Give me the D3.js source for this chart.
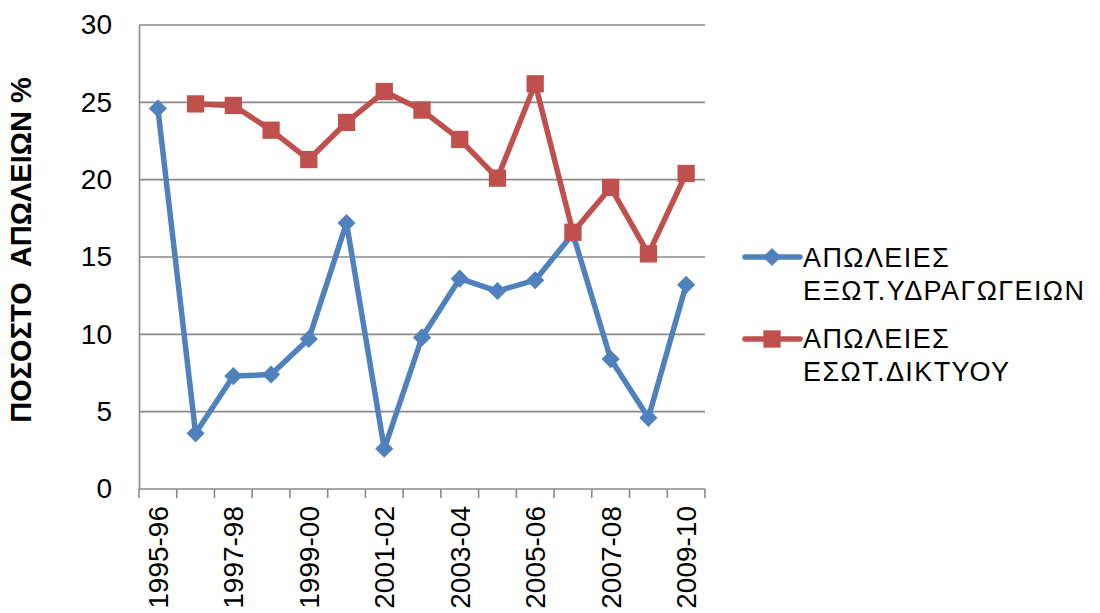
<!DOCTYPE html>
<html>
<head>
<meta charset="utf-8">
<script src="https://cdn.jsdelivr.net/npm/d3@7"></script>
<style>
  html, body { margin: 0; padding: 0; background: #fff; }
  svg { display: block; font-family: "Liberation Sans", Arial, sans-serif; }
</style>
</head>
<body>
<svg id="chart" width="1100" height="613"></svg>
<script>
// Water loss percentages per hydrological year
const years = ["1995-96","1996-97","1997-98","1998-99","1999-00","2000-01","2001-02",
               "2002-03","2003-04","2004-05","2005-06","2006-07","2007-08","2008-09","2009-10"];
const aqueductLoss = [24.6, 3.6, 7.3, 7.4, 9.7, 17.2, 2.6, 9.8, 13.6, 12.8, 13.5, 16.5, 8.4, 4.6, 13.2];
const networkLoss  = [null, 24.9, 24.8, 23.2, 21.3, 23.7, 25.7, 24.5, 22.6, 20.1, 26.2, 16.6, 19.5, 15.2, 20.4];
const yTicks = [0, 5, 10, 15, 20, 25, 30];
const seriesNames = [
  ["ΑΠΩΛΕΙΕΣ", "ΕΞΩΤ.ΥΔΡΑΓΩΓΕΙΩΝ"],
  ["ΑΠΩΛΕΙΕΣ", "ΕΣΩΤ.ΔΙΚΤΥΟΥ"]
];
const yTitle = "ΠΟΣΟΣΤΟ  ΑΠΩΛΕΙΩΝ %";

const BLUE = "#4f81bd", RED = "#c0504d", GRID = "#8a8a8a";

const svg = d3.select("#chart");
const plot = { left: 139, right: 705, top: 25, bottom: 489 };

const x = d3.scaleBand().domain(years).range([plot.left, plot.right]).padding(0);
const y = d3.scaleLinear().domain([0, 30]).range([plot.bottom, plot.top]);
const cx = d => x(d) + x.bandwidth() / 2;

// Horizontal gridlines
svg.append("g")
  .selectAll("line")
  .data(yTicks.filter(t => t > 0))
  .join("line")
  .attr("x1", plot.left).attr("x2", plot.right)
  .attr("y1", d => y(d)).attr("y2", d => y(d))
  .attr("stroke", GRID).attr("stroke-width", 1.6);

// Y axis
const yAxis = svg.append("g")
  .attr("transform", `translate(${plot.left},0)`)
  .call(d3.axisLeft(y).tickValues(yTicks).tickSize(0).tickPadding(27));
yAxis.select(".domain").attr("stroke", GRID).attr("stroke-width", 1.6);
yAxis.selectAll("text").attr("font-size", 28).attr("fill", "#000")
  .attr("font-family", "Liberation Sans, Arial, sans-serif");

// X axis: labels on every other year, tick marks on category boundaries
const xAxis = svg.append("g")
  .attr("transform", `translate(0,${plot.bottom})`)
  .call(d3.axisBottom(x).tickSize(0)
    .tickFormat((d, i) => i % 2 === 0 ? d : ""));
xAxis.select(".domain").remove();
xAxis.append("line")
  .attr("x1", plot.left).attr("x2", plot.right)
  .attr("stroke", GRID).attr("stroke-width", 1.6);
xAxis.selectAll(".tick text")
  .attr("font-size", 28).attr("fill", "#000")
  .attr("font-family", "Liberation Sans, Arial, sans-serif")
  .attr("transform", "rotate(-90)")
  .attr("text-anchor", "end")
  .attr("x", -17).attr("y", 0).attr("dy", "0.36em");
const boundaries = years.map(d => x(d)).concat([x.range()[1]]);
xAxis.selectAll("line.boundary")
  .data(boundaries)
  .join("line")
  .attr("class", "boundary")
  .attr("x1", d => d).attr("x2", d => d)
  .attr("y1", 0).attr("y2", 9)
  .attr("stroke", GRID).attr("stroke-width", 1.6);

// Y axis title (double space kept between the words)
svg.append("text")
  .attr("transform", `translate(31,250) rotate(-90)`)
  .attr("text-anchor", "middle")
  .attr("font-size", 29).attr("font-weight", "bold")
  .style("white-space", "pre")
  .text(yTitle);

// Series lines and markers
const line = d3.line()
  .defined(d => d.v !== null)
  .x(d => cx(d.k)).y(d => y(d.v));

const diamond = d3.symbol().type(d3.symbolDiamond2).size(210);
const square = d3.symbol().type(d3.symbolSquare2).size(380);

function drawSeries(values, color, sym) {
  const data = years.map((k, i) => ({ k, v: values[i] }));
  const g = svg.append("g");
  g.append("path").datum(data)
    .attr("d", line)
    .attr("fill", "none").attr("stroke", color)
    .attr("stroke-width", 5.5).attr("stroke-linejoin", "round");
  g.selectAll("path.m")
    .data(data.filter(d => d.v !== null))
    .join("path").attr("class", "m")
    .attr("transform", d => `translate(${cx(d.k)},${y(d.v)})`)
    .attr("d", sym).attr("fill", color);
}
drawSeries(aqueductLoss, BLUE, diamond);
drawSeries(networkLoss, RED, square);

// Legend
const legend = [
  { color: BLUE, sym: diamond, lineY: 257, baselines: [267, 300], text: seriesNames[0] },
  { color: RED, sym: square, lineY: 339, baselines: [348, 381], text: seriesNames[1] }
];
legend.forEach(item => {
  const g = svg.append("g");
  g.append("line")
    .attr("x1", 745).attr("x2", 800)
    .attr("y1", item.lineY).attr("y2", item.lineY)
    .attr("stroke", item.color).attr("stroke-width", 5.5).attr("stroke-linecap", "round");
  g.append("path")
    .attr("transform", `translate(772,${item.lineY})`)
    .attr("d", item.sym).attr("fill", item.color);
  item.text.forEach((t, i) => {
    g.append("text")
      .attr("x", 803).attr("y", item.baselines[i])
      .attr("font-size", 27).attr("letter-spacing", 1.4).attr("fill", "#000")
      .text(t);
  });
});
</script>
</body>
</html>
